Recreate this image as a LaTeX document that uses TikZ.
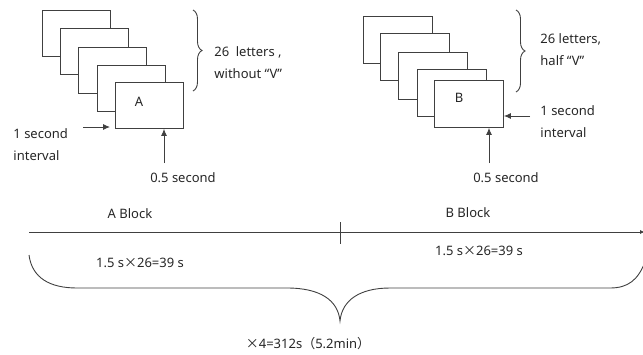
\documentclass[tikz,border=0pt]{standalone}
\usepackage{fontspec}
\setmainfont{Noto Sans}
\newfontfamily\cjk{Noto Sans CJK SC}
\usetikzlibrary{arrows.meta,decorations.pathreplacing}

\begin{document}
\begin{tikzpicture}[x=1pt,y=-1pt,
    line width=0.9pt, draw=black!75, text=black!85,
    font=\fontsize{13}{22}\selectfont,
    card/.style={draw,fill=white,minimum width=68pt,minimum height=46pt,inner sep=0pt,anchor=north west},
    lbl/.style={anchor=west,align=left,inner sep=0pt},
    pointer/.style={-{Latex[length=7pt,width=6pt]}},
    curly/.style={decorate,decoration={brace,amplitude=9pt}}]
    \useasboundingbox (0,0) rectangle (643,354);

    % A block cards
    \foreach \x/\y [count=\i] in {42/10,60/28,78/47,97/65,115/82}
        \node[card] (a\i) at (\x,\y) {};
    \node (alabel) at (139,102) {A};
    \draw[curly] (193,10) -- (193,91);
    \node[lbl] (aletters) at (214,63) {26\enspace letters ,\\without “V”};
    \coordinate (aint) at (83,127);
    \draw[pointer] (aint) -- ([xshift=-5pt]a5.west |- aint);
    \node[lbl] (aintlabel) at (13,145) {1 second\\interval};
    \coordinate (ahalf) at (164,163);
    \draw[pointer] (ahalf) -- (ahalf |- a5.south);
    \node (ahalflabel) at (183,178) {0.5 second};

    % B block cards
    \foreach \x/\y [count=\i] in {363/16,380/33,398/52,417/69,434/80}
        \node[card,minimum width=69pt,minimum height=47pt] (b\i) at (\x,\y) {};
    \node (blabel) at (459,98) {B};
    \draw[curly] (516,10) -- (516,92);
    \node[lbl] (bletters) at (540,50) {26 letters,\\half “V”};
    \coordinate (bint) at (530,116);
    \draw[pointer] (bint) -- (b5.east |- bint);
    \node[lbl] (bintlabel) at (540,122) {1 second\\interval};
    \coordinate (bhalf) at (489,163);
    \draw[pointer] (bhalf) -- (bhalf |- b5.south);
    \node (bhalflabel) at (506,178) {0.5 second};

    % time line
    \coordinate (tstart) at (29,232);
    \coordinate (tend) at (645,232);
    \draw[-{Latex[length=5pt,width=4pt]}] (tstart) -- (tend);
    \coordinate (ttop) at (340,222);
    \coordinate (tbot) at (340,244);
    \draw (ttop) -- (tbot);
    \node (ablock) at (130,214) {A Block};
    \node (bblock) at (468,213) {B Block};
    \node (atime) at (140,263) {1.5 s{\cjk ×}26=39 s};
    \node (btime) at (479,251) {1.5 s{\cjk ×}26=39 s};

    % whole brace
    \draw (29,255) .. controls (32,278) and (50,288) .. (77,288) -- (287,288)
        .. controls (320,288) and (338,300) .. (340,321)
        .. controls (342,300) and (360,288) .. (390,288) -- (610,288)
        .. controls (628,288) and (638,280) .. (645,262);
    \node (total) at (308,344) {{\cjk ×}4=312s{\cjk （}5.2min{\cjk ）}};
\end{tikzpicture}
\end{document}
